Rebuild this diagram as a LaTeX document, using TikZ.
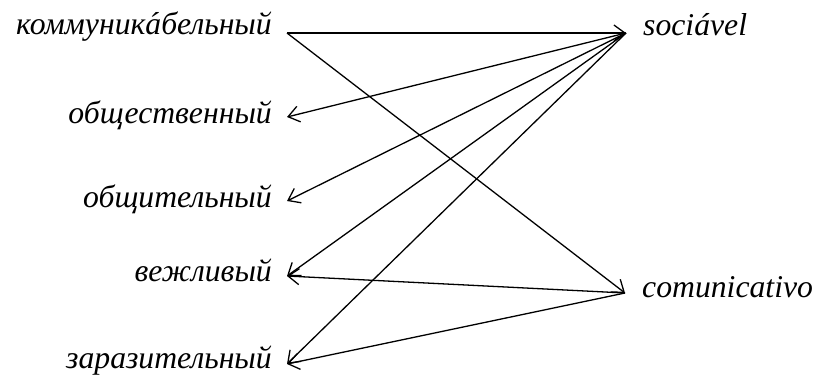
\documentclass[tikz,border=0pt]{standalone}
\usepackage{fontspec}
\setmainfont{Liberation Serif}
\newfontfamily\wordfont{Liberation Serif Italic}
\usetikzlibrary{arrows.meta}
\begin{document}
\begin{tikzpicture}[x=1pt,y=-1pt,
  word/.style={font=\wordfont\fontsize{31.7}{36}\selectfont, inner sep=0pt},
  link/.style={line width=1.3pt, -{Straight Barb[length=11pt,width=16pt,line width=1.3pt]}}]
\useasboundingbox (0,0) rectangle (815,376);
% left words
\node[word, anchor=base east] (kom) at (272,34) {коммуник{\accent"B4 а}бельный};
\node[word, anchor=base east] (obs) at (272,123) {общественный};
\node[word, anchor=base east] (obt) at (272,207) {общительный};
\node[word, anchor=base east] (vez) at (272,281) {вежливый};
\node[word, anchor=base east] (zar) at (272,368) {заразительный};
% right words
\node[word, anchor=base west] (soc) at (643,35) {sociável};
\node[word, anchor=base west] (com) at (642,297) {comunicativo};
% endpoints
\coordinate (komP) at (287,33);
\coordinate (obsP) at (287,117);
\coordinate (obtP) at (287,201);
\coordinate (vezP) at (287,276);
\coordinate (zarP) at (287,364);
\coordinate (socP) at (626,33);
\coordinate (comP) at (625,293);
% connectors
\draw[link] (komP) -- (socP);
\draw[link] (komP) -- (comP);
\draw[link] (socP) -- (obsP);
\draw[link] (socP) -- (obtP);
\draw[link] (socP) -- (vezP);
\draw[link] (socP) -- (zarP);
\draw[link] (comP) -- (vezP);
\draw[link] (comP) -- (zarP);
\end{tikzpicture}
\end{document}
